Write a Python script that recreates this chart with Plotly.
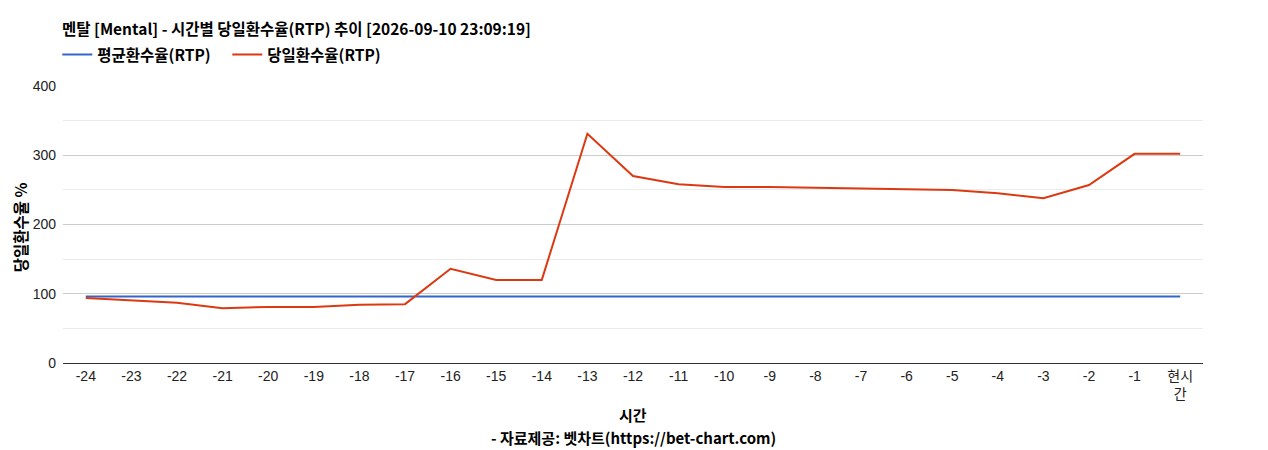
import plotly.graph_objects as go

# time slots (hours before now)
hours = [str(h) for h in range(-24, 0)] + ["현시<br>간"]
avg_rtp = [96] * 25
daily_rtp = [94, 90, 87, 79, 81, 81, 84, 85, 136, 120, 120, 331, 270, 258, 254,
             254, 253, 253, 252, 250, 245, 238, 257, 302, 302]

title_text = "멘탈 [Mental] - 시간별 당일환수율(RTP) 추이 [2026-09-10 23:09:19]"
kr_font = "Noto Sans CJK KR, Liberation Sans, sans-serif"

# page body has an 8px margin, so the figure is drawn 8px in from the top-left
W, H = 1260, 442
PLOT_W, PLOT_H = 1140, 277

fig = go.Figure()
fig.add_trace(go.Scatter(x=hours, y=avg_rtp, mode="lines", name="<b>평균환수율(RTP)</b>",
                         line=dict(color="#3366CC", width=2)))
fig.add_trace(go.Scatter(x=hours, y=daily_rtp, mode="lines", name="<b>당일환수율(RTP)</b>",
                         line=dict(color="#DC3912", width=2)))

fig.update_layout(
    width=W, height=H,
    margin=dict(l=55, r=65, t=78, b=87, autoexpand=False),
    paper_bgcolor="white", plot_bgcolor="white",
    font=dict(family="Liberation Sans, Arial, sans-serif", size=14, color="#222"),
    title=dict(text="<b>" + title_text + "</b>", x=54 / W, xanchor="left",
               y=1 - 22 / H, yanchor="middle",
               font=dict(family=kr_font, size=15.5, color="#000")),
    legend=dict(orientation="h", x=-0.005, xanchor="left", y=1 + 31 / PLOT_H, yanchor="middle",
                font=dict(family=kr_font, size=15.5, color="#000"),
                entrywidth=125, entrywidthmode="pixels",
                traceorder="normal", bgcolor="rgba(0,0,0,0)"),
    showlegend=True,
    annotations=[
        dict(text="<b>당일환수율 %</b>", xref="paper", yref="paper", x=-43 / PLOT_W, y=0.49,
             textangle=-90, showarrow=False, font=dict(family=kr_font, size=15.5, color="#000"),
             xanchor="center", yanchor="middle"),
        dict(text="<b>시간</b>", xref="paper", yref="paper", x=0.5, y=-(414 - 363) / PLOT_H,
             showarrow=False, font=dict(family=kr_font, size=15, color="#000"),
             xanchor="center", yanchor="middle"),
        dict(text="<b>- 자료제공: 벳차트(https://bet-chart.com)</b>", xref="paper", yref="paper",
             x=0.5, y=-(437 - 363) / PLOT_H, showarrow=False,
             font=dict(family=kr_font, size=15, color="#000"),
             xanchor="center", yanchor="middle"),
    ],
)

fig.update_xaxes(type="category", range=[-0.5, 24.5], showgrid=False, automargin=False,
                 showline=True, linecolor="#333", linewidth=1,
                 ticks="", tickfont=dict(family="Liberation Sans, Noto Sans CJK KR", size=14, color="#222"))
fig.update_yaxes(range=[0, 400], dtick=100, showgrid=True, gridcolor="#cccccc", automargin=False,
                 minor=dict(dtick=50, showgrid=True, gridcolor="#ebebeb"),
                 zeroline=False, showline=False, ticklabelstandoff=6,
                 tickfont=dict(family="Liberation Sans, Arial", size=14, color="#222"))

fig.write_html("out.html")
